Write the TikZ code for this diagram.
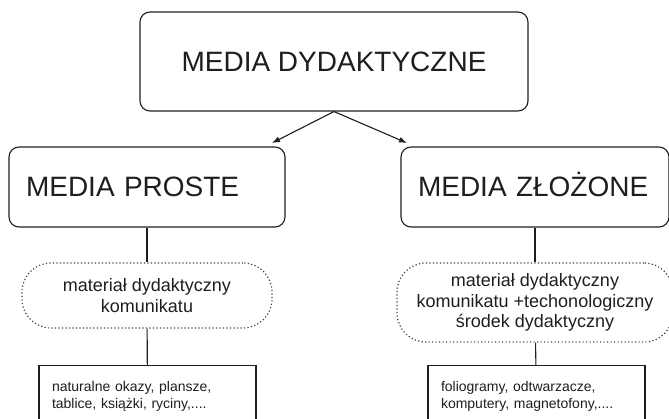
\documentclass[tikz,border=0pt]{standalone}
\usepackage{fontspec}
\setmainfont{Liberation Sans}
\usetikzlibrary{arrows.meta}
\definecolor{ink}{HTML}{1e1e1e}
\tikzstyle{kind}=[draw=ink, line width=1.1pt, rounded corners=10pt, minimum height=80pt, inner xsep=17pt, align=left, font=\fontsize{28}{34}\selectfont, text height=20pt, text depth=0pt]
\tikzstyle{carrier}=[draw=ink!85, line width=1.2pt, dash pattern=on 1.2pt off 2.3pt, rounded corners=29pt, align=center, font=\fontsize{18}{20.5}\selectfont]
\tikzstyle{examples}=[draw=ink, line width=1.1pt, rectangle, anchor=north, inner xsep=13pt, inner ysep=0pt, text width=191pt, align=left, text height=26pt, text depth=60pt, font=\fontsize{14}{16.5}\selectfont]

\begin{document}
\begin{tikzpicture}[x=1pt, y=-1pt, text=ink]

\clip (0, 0) rectangle (669, 419);

\node [kind, align=center, minimum width=388pt, minimum height=99pt] (media) at (334, 61.5) {MEDIA DYDAKTYCZNE};

\node [kind, text width=242pt] (simple)  at (147, 187) {MEDIA PROSTE};
\node [kind, text width=234pt] (complex) at (535, 187) {MEDIA ZŁOŻONE};

\node [carrier, minimum width=250pt, minimum height=65pt] (simplemat)  at (147, 295.5) {materiał dydaktyczny\\komunikatu};
\node [carrier, minimum width=276pt, minimum height=79pt] (complexmat) at (535, 302.5) {materiał dydaktyczny\\komunikatu +techonologiczny\\środek dydaktyczny};

\node [examples] (simplelist)  at (147.5, 365) {naturalne okazy, plansze,\\tablice, książki, ryciny,....};
\node [examples] (complexlist) at (536.5, 365) {foliogramy, odtwarzacze,\\komputery, magnetofony,....};

\coordinate (simplein)  at (272, 143);
\coordinate (complexin) at (407, 143);

\draw [ink, line width=1.1pt, -{Latex[length=8pt, width=6pt]}] (media.south) -- (simplein);
\draw [ink, line width=1.1pt, -{Latex[length=8pt, width=6pt]}] (media.south) -- (complexin);
\draw [ink, line width=1.1pt] (simple)     -- (simplemat);
\draw [ink, line width=1.1pt] (simplemat)  -- (simplelist);
\draw [ink, line width=1.1pt] (complex)    -- (complexmat);
\draw [ink, line width=1.1pt] (complexmat) -- (complexlist);

\end{tikzpicture}
\end{document}
